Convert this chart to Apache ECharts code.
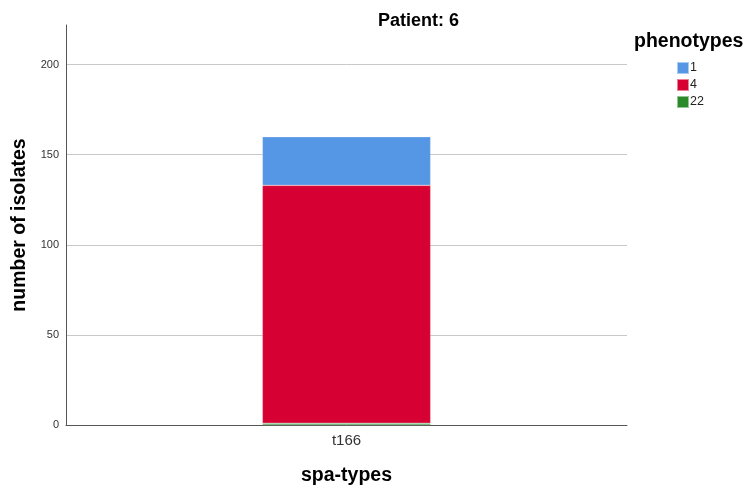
<!DOCTYPE html>
<html><head><meta charset="utf-8">
<script src="https://cdn.jsdelivr.net/npm/echarts@6/dist/echarts.min.js"></script>
<style>html,body{margin:0;padding:0;background:#fff}#c{width:747px;height:491px}</style>
</head><body><div id="c"></div>
<script>
const categories = ['t166'];
const phenotypes = ['1', '4', '22'];
const values1 = [27];
const values4 = [132];
const values22 = [1];
const colors = {'1': '#5596E5', '4': '#D60032', '22': '#2A8A2A'};
const yTicks = [0, 50, 100, 150, 200];

const chart = echarts.init(document.getElementById('c'));
const font = 'Liberation Sans, Arial, sans-serif';
function bar(name, data) {
  return {
    name: name, type: 'bar', stack: 'a', data: data, barWidth: '30%',
    itemStyle: {color: colors[name], borderColor: 'rgba(255,255,255,0.5)', borderWidth: 0.5},
    emphasis: {disabled: true}
  };
}
chart.setOption({
  animation: false,
  textStyle: {fontFamily: font},
  title: {text: 'Patient: 6', left: 373, top: 7,
    textStyle: {fontSize: 18, fontWeight: 'bold', color: '#000', fontFamily: font}},
  grid: {left: 66, right: 120, top: 25, bottom: 65, containLabel: false},
  legend: {
    data: phenotypes, orient: 'vertical', left: 671, top: 56,
    itemWidth: 12, itemHeight: 12, itemGap: 3, icon: 'rect',
    textStyle: {fontSize: 12.5, color: '#222', padding: [0, 0, 0, -4], fontFamily: font}
  },
  graphic: [{type: 'text', left: 634, top: 32,
    style: {text: 'phenotypes', fontSize: 19.5, fontWeight: 'bold', fill: '#000', fontFamily: font}}],
  xAxis: {
    type: 'category', data: categories,
    name: 'spa-types', nameLocation: 'middle', nameGap: 41,
    nameTextStyle: {fontSize: 19.5, fontWeight: 'bold', color: '#000', fontFamily: font},
    axisLine: {lineStyle: {color: '#555', width: 1}},
    axisTick: {show: false},
    axisLabel: {fontSize: 15, color: '#333', margin: 8, fontFamily: font}
  },
  yAxis: {
    type: 'value', min: 0, max: 222, interval: 50,
    name: 'number of isolates', nameLocation: 'middle', nameGap: 34,
    nameTextStyle: {fontSize: 19.5, fontWeight: 'bold', color: '#000', fontFamily: font},
    axisLine: {show: true, lineStyle: {color: '#555', width: 1}},
    axisTick: {show: false},
    axisLabel: {fontSize: 11, color: '#333', margin: 7, fontFamily: font,
      formatter: v => yTicks.includes(v) ? String(v) : ''},
    splitLine: {showMaxLine: false, lineStyle: {color: '#c8c8c8', width: 1}}
  },
  series: [bar('22', values22), bar('4', values4), bar('1', values1)]
});
</script></body></html>
